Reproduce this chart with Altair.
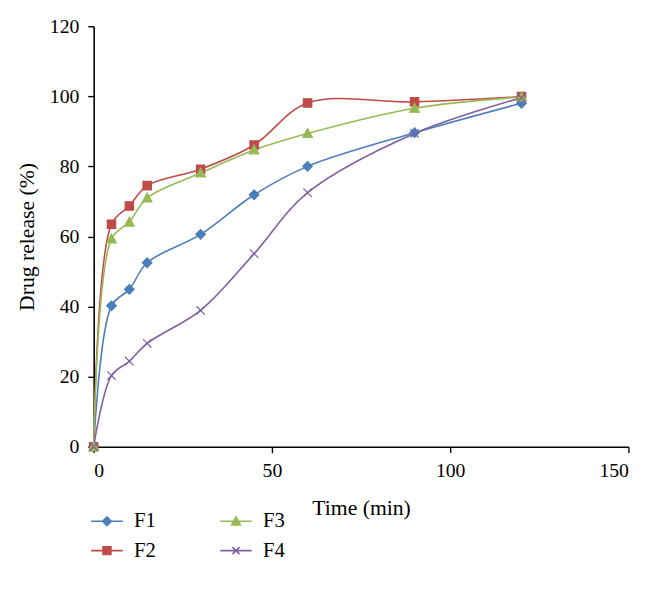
import altair as alt
import pandas as pd

# ---- data ----
times = [0, 5, 10, 15, 30, 45, 60, 90, 120]
F1 = [0, 40.2, 44.9, 52.5, 60.6, 71.9, 80.0, 89.6, 98.0]
F2 = [0, 63.5, 68.7, 74.5, 79.2, 86.1, 98.1, 98.4, 99.9]
F3 = [0, 59.3, 64.1, 71.0, 78.1, 84.7, 89.4, 96.6, 99.8]
F4 = [0, 20.3, 24.4, 29.5, 38.9, 55.1, 72.5, 89.4, 99.6]
series_names = ["F1", "F2", "F3", "F4"]
x_ticks = [0, 50, 100, 150]
y_ticks = [0, 20, 40, 60, 80, 100, 120]

colors = {"F1": "#4A7EBB", "F2": "#BE4B48", "F3": "#98B954", "F4": "#7D60A0"}

rows = []
for name, vals in zip(series_names, [F1, F2, F3, F4]):
    for t, v in zip(times, vals):
        rows.append({"time": t, "release": v, "series": name, "lseries": name})
df = pd.DataFrame(rows)

FONT = "Liberation Serif"

# marker shapes (custom paths; +-1 spans sqrt(size) pixels)
SQ = "M-1,-1H1V1H-1Z"
DIA = "M0,-1.15L1.15,0L0,1.15L-1.15,0Z"
TRI = "M0,-1.15L1.15,0.95H-1.15Z"
XX = "M-1,-1L1,1M-1,1L1,-1"
shapes = {"F1": DIA, "F2": SQ, "F3": TRI, "F4": XX}

# legend symbols: line + small marker
LSQ = "M-0.5,-0.5H0.5V0.5H-0.5Z"
LDIA = "M0,-0.55L0.55,0L0,0.55L-0.55,0Z"
LTRI = "M0,-0.55L0.55,0.45H-0.55Z"
LXX = "M-0.45,-0.45L0.45,0.45M-0.45,0.45L0.45,-0.45"
LINE = "M-2,0H2"
lshapes = {"F1": LINE + LDIA, "F2": LINE + LSQ, "F3": LINE + LTRI, "F4": LINE + LXX}

dom = series_names
rng = [colors[s] for s in dom]

x_enc = alt.X("time:Q", scale=alt.Scale(domain=[0, 150], nice=False),
              axis=alt.Axis(values=x_ticks, title="Time (min)", grid=False,
                            labelPadding=8, titlePadding=18, tickSize=6))
y_enc = alt.Y("release:Q", scale=alt.Scale(domain=[0, 120], nice=False),
              axis=alt.Axis(values=y_ticks, title="Drug release (%)", grid=False,
                            labelPadding=9, titlePadding=11, tickSize=6))

lines = alt.Chart(df).mark_line(interpolate="catmull-rom", strokeWidth=1.6).encode(
    x=x_enc, y=y_enc,
    color=alt.Color("series:N", scale=alt.Scale(domain=dom, range=rng), legend=None),
    detail="series:N",
)

points = alt.Chart(df).mark_point(filled=True, size=72, strokeWidth=1.2, opacity=1).encode(
    x="time:Q", y="release:Q",
    fill=alt.Fill("series:N", scale=alt.Scale(domain=dom, range=rng), legend=None),
    stroke=alt.Stroke("series:N", scale=alt.Scale(domain=dom, range=rng), legend=None),
    shape=alt.Shape("series:N", scale=alt.Scale(domain=dom, range=[shapes[s] for s in dom]), legend=None),
)

# legend-only layer (no marks drawn); entries fill column by column
ldom = ["F1", "F2", "F3", "F4"]
lrng = [colors[s] for s in ldom]
leg = alt.Legend(title=None, orient="none", legendX=3, legendY=492, columns=2,
                 columnPadding=61, rowPadding=8, labelOffset=17, symbolSize=256,
                 symbolStrokeWidth=1.6, symbolOpacity=1, labelFont=FONT, labelFontSize=21,
                 labelColor="black", padding=0)
legend_layer = alt.Chart(df).transform_filter("false").mark_point(filled=True, opacity=1).encode(
    x="time:Q", y="release:Q",
    fill=alt.Fill("lseries:N", scale=alt.Scale(domain=ldom, range=lrng), legend=leg),
    stroke=alt.Stroke("lseries:N", scale=alt.Scale(domain=ldom, range=lrng), legend=leg),
    shape=alt.Shape("lseries:N", scale=alt.Scale(domain=ldom, range=[lshapes[s] for s in ldom]), legend=leg),
)

chart = alt.layer(lines, points, legend_layer).resolve_scale(
    fill="independent", stroke="independent", shape="independent"
).properties(
    width=543, height=427,
    autosize=alt.AutoSizeParams(type="none"),
    padding={"left": 87, "top": 14, "right": 30, "bottom": 140},
).configure_view(stroke=None).configure_axis(
    domainColor="black", domainWidth=1.6, tickColor="black", tickWidth=1.4,
    labelFont=FONT, labelFontSize=20, labelColor="black",
    titleFont=FONT, titleFontSize=22, titleColor="black", titleFontWeight="normal",
)

chart.save("out.html", embed_options={"renderer": "svg", "actions": False})
